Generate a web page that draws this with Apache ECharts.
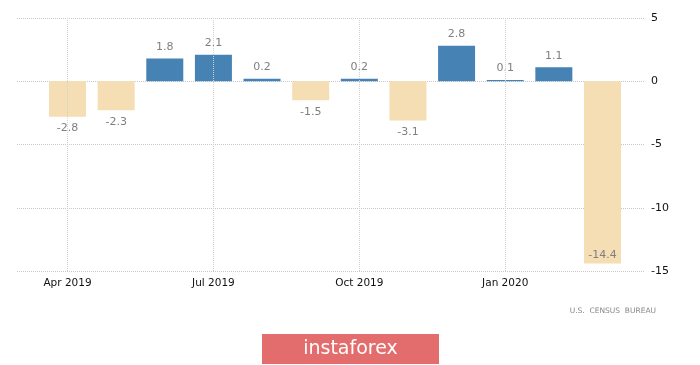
<!DOCTYPE html>
<html><head><meta charset="utf-8">
<script src="https://cdn.jsdelivr.net/npm/echarts@6/dist/echarts.min.js"></script>
<style>html,body{margin:0;padding:0;background:#fff}#c{width:700px;height:365px}</style>
</head><body><div id="c"></div>
<script>
var categories = ['Apr 2019','May 2019','Jun 2019','Jul 2019','Aug 2019','Sep 2019','Oct 2019','Nov 2019','Dec 2019','Jan 2020','Feb 2020','Mar 2020'];
var values = [-2.8, -2.3, 1.8, 2.1, 0.2, -1.5, 0.2, -3.1, 2.8, 0.1, 1.1, -14.4];
var yTicks = [5, 0, -5, -10, -15];
var labelMonths = ['Apr 2019','Jul 2019','Oct 2019','Jan 2020'];

var chart = echarts.init(document.getElementById('c'));
var data = values.map(function(v, i){
  var pos = v >= 0 ? 'top' : 'bottom';
  var lab = {position: pos};
  if (i === values.length - 1) { lab = {position: 'insideBottom', distance: 3}; }
  return {value: v, itemStyle: {color: v >= 0 ? '#4682b4' : '#f5deb3'}, label: lab};
});
chart.setOption({
  animation: false,
  grid: [
    {left: 17, right: 55, top: 18, bottom: 94},
    {left: 43.2, right: 73.2, top: 18, bottom: 94}
  ],
  xAxis: [
    {gridIndex: 0, type: 'value', show: false, min: 0, max: 1},
    {gridIndex: 1, type: 'category', data: categories,
     axisLine: {show: false}, axisTick: {show: false}, splitLine: {show: false},
     axisLabel: {interval: 2, color: '#111', fontFamily: 'DejaVu Sans', fontSize: 10.5, margin: 7}}
  ],
  yAxis: [
    {gridIndex: 0, type: 'value', position: 'right', min: -15, max: 5, interval: 5,
     axisLine: {show: false}, axisTick: {show: false},
     axisLabel: {color: '#111', fontFamily: 'DejaVu Sans', fontSize: 11, margin: 6},
     splitLine: {lineStyle: {type: 'dotted', color: '#c8c8c8', width: 1}}},
    {gridIndex: 1, type: 'value', min: -15, max: 5, interval: 5, show: false, splitLine: {show: false}}
  ],
  series: [{
    type: 'bar', xAxisIndex: 1, yAxisIndex: 1, barWidth: 37, data: data,
    label: {show: true, color: '#808080', fontFamily: 'DejaVu Sans', fontSize: 11, distance: 6},
    markLine: {symbol: 'none', silent: true, label: {show: false},
      lineStyle: {type: 'dotted', color: '#d0d0d0', width: 1},
      data: labelMonths.map(function(m){ return {xAxis: m}; })}
  }],
  graphic: [
    {type: 'text', right: 44, top: 307, style: {text: 'U.S.  CENSUS  BUREAU', fill: '#888', font: '7.5px "DejaVu Sans"'}},
    {type: 'rect', shape: {x: 262, y: 334, width: 177, height: 30}, style: {fill: '#e36d6d'}},
    {type: 'text', x: 350.5, y: 349, style: {text: 'instaforex', fill: '#fff', font: '19px "DejaVu Sans"', align: 'center', verticalAlign: 'middle'}}
  ]
});
</script></body></html>
